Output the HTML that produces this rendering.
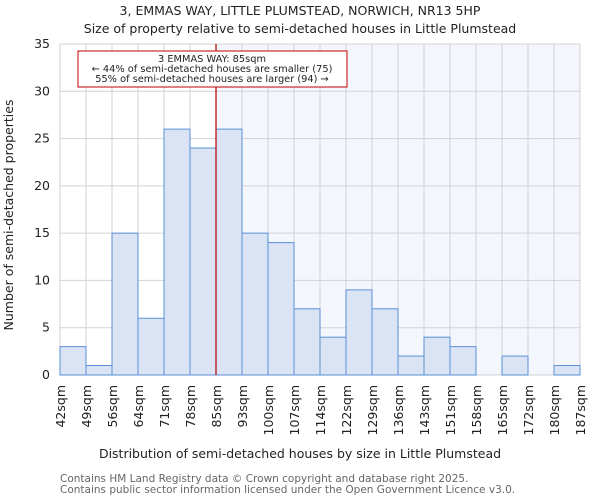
<!DOCTYPE html>
<html><head><meta charset="utf-8"><style>
body{margin:0;background:#fff;font-family:"DejaVu Sans","Liberation Sans",sans-serif;}
svg text{font-family:"DejaVu Sans","Liberation Sans",sans-serif;}
</style></head><body>
<svg id="chart" width="600" height="500" xmlns="http://www.w3.org/2000/svg">
<text x="300" y="15" text-anchor="middle" font-size="12.5" fill="#222">3, EMMAS WAY, LITTLE PLUMSTEAD, NORWICH, NR13 5HP</text>
<text x="300" y="33" text-anchor="middle" font-size="12.5" fill="#222">Size of property relative to semi-detached houses in Little Plumstead</text>
<g id="plot"></g>
<text x="300" y="458" text-anchor="middle" font-size="12.5" fill="#222">Distribution of semi-detached houses by size in Little Plumstead</text>
<text transform="translate(13,215) rotate(-90)" text-anchor="middle" font-size="12.5" fill="#222">Number of semi-detached properties</text>
<text x="60" y="482" font-size="10.5" fill="#666">Contains HM Land Registry data © Crown copyright and database right 2025.</text>
<text x="60" y="493" font-size="10.5" fill="#666">Contains public sector information licensed under the Open Government Licence v3.0.</text>
</svg>
<script>
const categories=["42sqm","49sqm","56sqm","64sqm","71sqm","78sqm","85sqm","93sqm","100sqm","107sqm","114sqm","122sqm","129sqm","136sqm","143sqm","151sqm","158sqm","165sqm","172sqm","180sqm","187sqm"];
const counts=[3,1,15,6,26,24,26,15,14,7,4,9,7,2,4,3,0,2,0,1];
const yTicks=[0,5,10,15,20,25,30,35];
const markerIndex=6;
const NS="http://www.w3.org/2000/svg";
const L=60,R=580,T=44,B=375,yMax=35;
const n=counts.length,bw=(R-L)/n;
const x=i=>L+i*bw, y=v=>B-(B-T)*v/yMax;
const g=document.getElementById('plot');
function mk(t,a){const e=document.createElementNS(NS,t);for(const k in a)e.setAttribute(k,a[k]);g.appendChild(e);return e;}
let e=mk('rect',{x:x(markerIndex),y:T,width:R-x(markerIndex),height:B-T,fill:'#f3f6fd'});


for(let i=0;i<=n;i++){e=mk('line',{x1:x(i),x2:x(i),y1:T,y2:B,stroke:'#d2d2d2','stroke-width':1});

}
yTicks.forEach(v=>{e=mk('line',{x1:L,x2:R,y1:y(v),y2:y(v),stroke:'#d2d2d2','stroke-width':1});


const t=mk('text',{x:L-10,y:y(v)+4,'text-anchor':'end','font-size':12.5,fill:'#222'});t.textContent=v;

});
counts.forEach((c,i)=>{if(c<=0)return;e=mk('rect',{x:x(i),y:y(c),width:bw,height:B-y(c),fill:'#dae4f4',stroke:'#5b8fd8','stroke-width':1});

});
categories.forEach((c,i)=>{const t=mk('text',{transform:`translate(${x(i)+5},385) rotate(-90)`,'text-anchor':'end','font-size':12.5,fill:'#222'});t.textContent=c;

});
e=mk('line',{x1:x(markerIndex),x2:x(markerIndex),y1:T,y2:B,stroke:'#b00000','stroke-width':1.2});


e=mk('rect',{x:78,y:51,width:269,height:36,fill:'#fff',stroke:'#c00000','stroke-width':1});


[["3 EMMAS WAY: 85sqm",62],["← 44% of semi-detached houses are smaller (75)",72],["55% of semi-detached houses are larger (94) →",82]].forEach(([s,yy])=>{const t=mk('text',{x:212,y:yy,'text-anchor':'middle','font-size':9.8,fill:'#222'});t.textContent=s;

});
</script>
</body></html>
